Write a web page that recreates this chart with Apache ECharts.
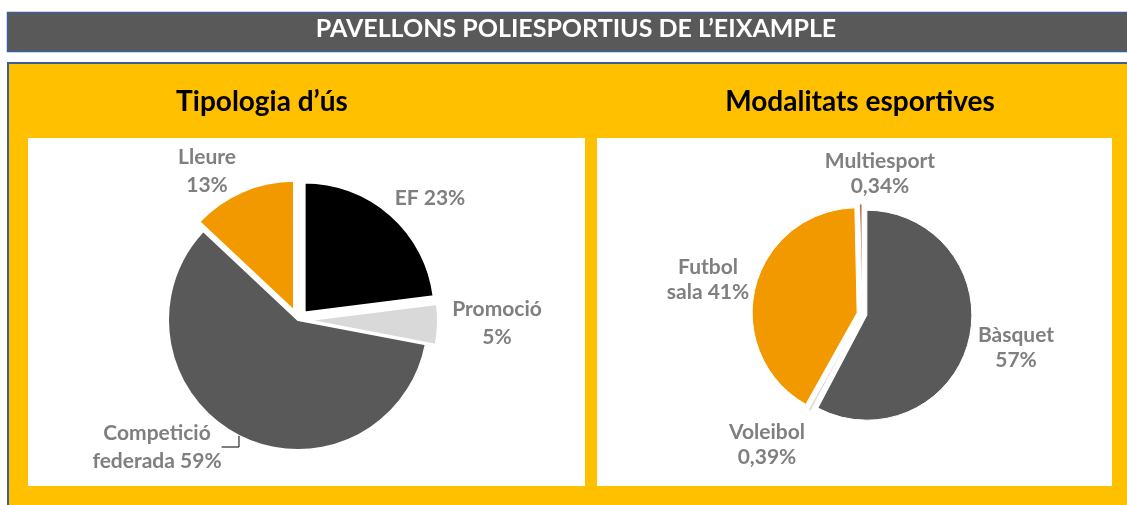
<!DOCTYPE html>
<html>
<head>
<meta charset="utf-8">
<script src="https://cdn.jsdelivr.net/npm/echarts@6.0.0/dist/echarts.min.js"></script>
<style>
  html, body { margin: 0; padding: 0; background: #fff; }
  #chartshow { width: 1127px; height: 505px; }
</style>
</head>
<body>
<div id="chartshow"></div>
<script>
// Tipologia d'ús
const usageNames = ['EF', 'Promoció', 'Competició federada', 'Lleure'];
const usageValues = [23, 5, 59, 13];
const usageLabels = ['EF 23%', 'Promoció\n5%', 'Competició\nfederada 59%', 'Lleure\n13%'];

// Modalitats esportives
const sportNames = ['Bàsquet', 'Voleibol', 'Futbol sala', 'Multiesport'];
const sportValues = [57, 0.39, 41, 0.34];
const sportLabels = ['Bàsquet\n57%', 'Voleibol\n0,39%', 'Futbol\nsala 41%', 'Multiesport\n0,34%'];

const font = 'Lato, "Open Sans", sans-serif';
const labelGray = '#7f7f7f';

const usageColors = ['#000000', '#d9d9d9', '#595959', '#f29900'];
const usageExploded = [true, true, false, true];
const usageLabelPos = [[430, 198], [497, 323], [157, 447], [207, 171]];

const sportColors = ['#595959', '#d9d9d9', '#f29900', '#9e480e'];
const sportExploded = [true, true, true, true];
const sportLabelPos = [[1016, 348], [767, 445], [708, 280], [880, 174]];

// the exploded (selected) slices keep their own label position, so the labels
// sit on a second, see-through pie with the same data
const sliceData = (names, values, colors, exploded) =>
  names.map((name, i) => ({
    name: name,
    value: values[i],
    selected: exploded[i],
    itemStyle: { color: colors[i] },
  }));

const labelData = (names, values, lineFor) =>
  names.map((name, i) => ({
    name: name,
    value: values[i],
    labelLine: { show: name === lineFor },
  }));

const labelStyle = (texts, lh) => ({
  show: true,
  position: 'outside',
  formatter: (p) => texts[p.dataIndex],
  color: labelGray,
  fontFamily: font,
  fontWeight: 'bold',
  fontSize: 21,
  lineHeight: lh,
  align: 'center',
});

const layoutFrom = (pos) => (p) => ({
  x: pos[p.dataIndex][0],
  y: pos[p.dataIndex][1],
  align: 'center',
  verticalAlign: 'middle',
});

const slicesSeries = (name, center, radius, offset, border, data) => ({
  name: name,
  type: 'pie',
  center: center,
  radius: radius,
  startAngle: 90,
  selectedMode: 'multiple',
  selectedOffset: offset,
  itemStyle: { borderColor: '#ffffff', borderWidth: border },
  label: { show: false },
  labelLine: { show: false },
  emphasis: { disabled: true },
  data: data,
});

const labelsSeries = (name, center, radius, texts, lh, pos, data) => ({
  name: name,
  type: 'pie',
  z: 3,
  silent: true,
  center: center,
  radius: radius,
  startAngle: 90,
  avoidLabelOverlap: false,
  itemStyle: { color: 'rgba(0,0,0,0)', borderWidth: 0 },
  label: labelStyle(texts, lh),
  labelLine: { show: false, lineStyle: { color: '#000000', width: 1 } },
  labelLayout: layoutFrom(pos),
  emphasis: { disabled: true },
  data: data,
});

const chartDom = document.getElementById('chartshow');
const myChart = echarts.init(chartDom, null, { renderer: 'canvas' });

const option = {
  animation: false,
  graphic: [
    // banner
    {
      type: 'rect', z: -10,
      shape: { x: 7.5, y: 12.5, width: 1130, height: 39 },
      style: { fill: '#595959', stroke: '#3d5f98', lineWidth: 1.5 },
    },
    {
      type: 'text', z: -9, x: 576, y: 29,
      style: {
        text: 'PAVELLONS POLIESPORTIUS DE L’EIXAMPLE',
        fill: '#ffffff', font: 'bold 25px ' + font,
        textAlign: 'center', textVerticalAlign: 'middle',
      },
    },
    // yellow panel
    {
      type: 'rect', z: -10,
      shape: { x: 8, y: 63, width: 1130, height: 450 },
      style: { fill: '#ffc000', stroke: '#3d5f98', lineWidth: 2 },
    },
    {
      type: 'rect', z: -9,
      shape: { x: 28, y: 138, width: 557, height: 348 },
      style: { fill: '#ffffff' },
    },
    {
      type: 'rect', z: -9,
      shape: { x: 597, y: 138, width: 515, height: 348 },
      style: { fill: '#ffffff' },
    },
    {
      type: 'text', z: -8, x: 262, y: 102,
      style: {
        text: 'Tipologia d’ús', fill: '#000000', font: 'bold 28px ' + font,
        textAlign: 'center', textVerticalAlign: 'middle',
      },
    },
    {
      type: 'text', z: -8, x: 860, y: 102,
      style: {
        text: 'Modalitats esportives', fill: '#000000', font: 'bold 28px ' + font,
        textAlign: 'center', textVerticalAlign: 'middle',
      },
    },
  ],
  series: [
    slicesSeries('Tipologia d’ús', [298, 320], 130, 10, 2,
      sliceData(usageNames, usageValues, usageColors, usageExploded)),
    labelsSeries('Tipologia d’ús (etiquetes)', [298, 320], 130, usageLabels, 28, usageLabelPos,
      labelData(usageNames, usageValues, 'Competició federada')),
    slicesSeries('Modalitats esportives', [862, 314], 105, 5, 1,
      sliceData(sportNames, sportValues, sportColors, sportExploded)),
    labelsSeries('Modalitats esportives (etiquetes)', [862, 314], 105, sportLabels, 25, sportLabelPos,
      labelData(sportNames, sportValues, null)),
  ],
};

myChart.setOption(option);
</script>
</body>
</html>
